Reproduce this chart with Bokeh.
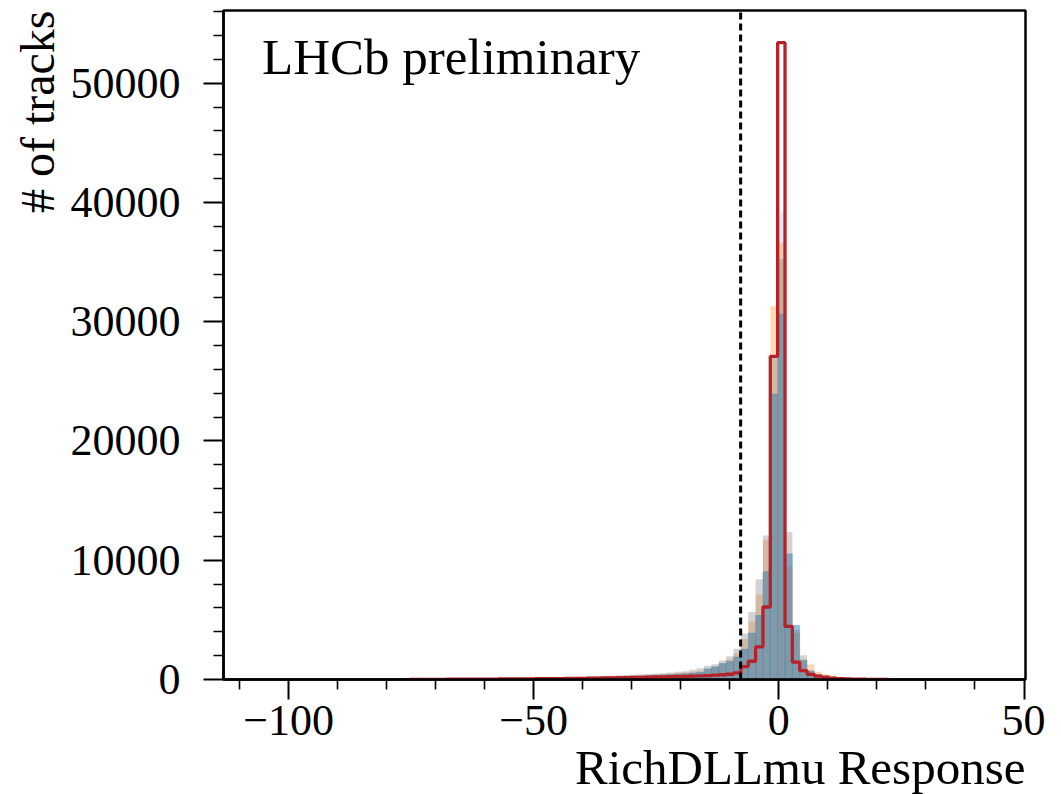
import numpy as np
from bokeh.plotting import figure
from bokeh.models import FixedTicker, Label, Title, Range1d
from bokeh.embed import file_html
from bokeh.resources import INLINE

# ---- data (histograms, 1.5-wide bins starting at bin_start) ----
bin_start = -75.25
bin_width = 1.5

grey_counts = [30, 34, 38, 42, 46, 51, 56, 62, 69, 77,
               85, 92, 100, 108, 116, 125, 135, 145, 158, 172,
               190, 205, 220, 240, 260, 280, 300, 320, 345, 370,
               400, 430, 460, 500, 540, 590, 640, 700, 820, 950,
               1150, 1270, 1600, 1950, 2570, 3850, 5650, 8400, 12080, 27000,
               35260,
               12360, 4150, 2030, 780, 450, 300, 200, 140, 100, 70, 50, 35, 25, 15]

orange_counts = [25, 29, 32, 36, 39, 43, 48, 53, 59, 65,
                 72, 78, 85, 92, 99, 106, 115, 123, 134, 146,
                 160, 174, 187, 204, 221, 238, 255, 272, 293, 315,
                 340, 365, 390, 425, 460, 500, 545, 595, 655, 730,
                 850, 1060, 1360, 1700, 2200, 3400, 4850, 7120, 11725, 31300,
                 36650,
                 9500, 3900, 1700, 1250, 640, 440, 330, 220, 150, 100, 70, 50, 35, 20]

blue_counts = [20, 23, 26, 29, 32, 35, 39, 43, 48, 53,
               58, 63, 69, 75, 81, 87, 94, 101, 110, 120,
               130, 142, 153, 167, 181, 195, 209, 223, 240, 258,
               280, 300, 320, 350, 380, 410, 445, 485, 535, 600,
               900, 1060, 1340, 1530, 1890, 2550, 3900, 5380, 9050, 23950,
               30650,
               10550, 4550, 1600, 700, 400, 280, 190, 130, 90, 60, 40, 28, 20, 12]

pale_counts = [20, 23, 26, 29, 32, 35, 39, 43, 48, 53,
               58, 63, 69, 75, 81, 87, 94, 101, 110, 120,
               130, 142, 153, 167, 181, 195, 209, 223, 240, 258,
               280, 300, 320, 350, 380, 410, 445, 485, 535, 600,
               900, 1060, 1340, 1530, 1890, 2550, 3900, 5380, 9050, 23950,
               39160,
               10550, 4550, 1600, 700, 400, 280, 190, 130, 90, 60, 40, 28, 20, 12]

red_counts = [10, 12, 14, 16, 18, 20, 22, 25, 28, 31,
              34, 37, 41, 45, 49, 53, 58, 63, 68, 74,
              80, 87, 94, 101, 109, 118, 127, 137, 148, 160,
              172, 185, 198, 212, 226, 240, 255, 270, 290, 310,
              330, 360, 400, 440, 560, 1080, 1530, 2730, 6080, 27100,
              53400,
              4450, 1450, 740, 430, 280, 190, 120, 80, 50, 35, 25, 15, 10, 5]

cut_value = -7.8

x_major = [-100, -50, 0, 50]
x_major_labels = ["\u2212100", "\u221250", "0", "50"]
y_major = [0, 10000, 20000, 30000, 40000, 50000]

n = len(grey_counts)
edges = bin_start + bin_width * np.arange(n + 1)
lefts = edges[:-1]
rights = edges[1:]

FONT = "Liberation Serif"
Y_TOP = 56100

p = figure(frame_width=802, frame_height=669,
           min_border_left=223, min_border_right=20, min_border_top=10, min_border_bottom=105,
           x_range=Range1d(-113.27, 50.3), y_range=Range1d(0, Y_TOP),
           output_backend="svg", toolbar_location=None, tools="")

p.background_fill_color = "white"
p.border_fill_color = "white"
p.grid.visible = False
p.outline_line_color = "black"
p.outline_line_width = 2.5

def hist(counts, color, alpha):
    p.quad(left=lefts, right=rights, bottom=0, top=counts,
           fill_color=color, fill_alpha=alpha, line_color=None)

hist(pale_counts, "#1f77b4", 0.15)
hist(orange_counts, "#ff7f0e", 0.30)
hist(grey_counts, "#808080", 0.35)
p.quad(left=lefts, right=rights, bottom=0, top=blue_counts,
       fill_color="#1f77b4", fill_alpha=0.40, line_color="#1f77b4", line_alpha=0.25, line_width=0.8)

# red step outline
sx, sy = [edges[0]], [0]
for i in range(n):
    sx += [edges[i], edges[i + 1]]
    sy += [red_counts[i], red_counts[i]]
sx.append(edges[-1]); sy.append(0)
p.line(sx, sy, line_color="#b5222a", line_width=3.3)

# dashed cut line
p.segment(x0=[cut_value], y0=[0], x1=[cut_value], y1=[Y_TOP], line_color="black",
          line_width=3, line_dash="7 4")

p.add_layout(Label(x=-105.4, y=52170, text="LHCb preliminary", text_font=FONT,
                   text_font_size="51px", text_baseline="alphabetic", text_color="black"))

# axes
xa = p.xaxis[0]
xa.ticker = FixedTicker(ticks=x_major, minor_ticks=[v for v in range(-110, 51, 10) if v not in x_major])
xa.major_label_overrides = {v: s for v, s in zip(x_major, x_major_labels)}
ya = p.yaxis[0]
ya.ticker = FixedTicker(ticks=y_major, minor_ticks=[v for v in range(2000, 56001, 2000) if v not in y_major])

for ax in (xa, ya):
    ax.axis_line_width = 2.5
    ax.axis_line_color = "black"
    ax.major_tick_line_width = 2
    ax.minor_tick_line_width = 1.6
    ax.major_tick_in = 0
    ax.minor_tick_in = 0
    ax.major_tick_out = 20
    ax.minor_tick_out = 10
    ax.major_label_text_font = FONT
    ax.major_label_text_font_size = "44px"
    ax.major_label_text_color = "black"
xa.major_label_standoff = 6
ya.major_label_standoff = 23

p.add_layout(Title(text="# of tracks", align="right", text_font=FONT, text_font_size="48px",
                   text_font_style="normal", text_color="black", standoff=8, offset=0), "left")
p.add_layout(Title(text="RichDLLmu Response", align="right", text_font=FONT, text_font_size="49px",
                   text_font_style="normal", text_color="black", standoff=0, offset=0), "below")

open("out.html", "w").write(file_html(p, INLINE))
